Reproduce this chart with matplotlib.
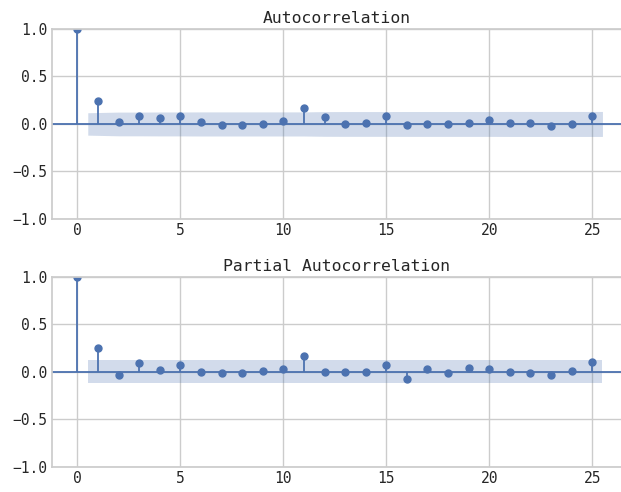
import numpy as np
import matplotlib
matplotlib.use("Agg")
import matplotlib.pyplot as plt
import seaborn as sns

sns.set_theme(style="whitegrid")
plt.rcParams['font.family'] = ['DejaVu Sans Mono', 'Noto Sans CJK SC']

# 滞后阶数 0..25
lags = np.arange(0, 26)

# 自相关系数
acf_vals = [1.0, 0.243, 0.025, 0.087, 0.058, 0.080, 0.025, -0.011, -0.011, 0.004,
            0.033, 0.167, 0.072, 0.004, 0.011, 0.080, -0.011, 0.004, -0.004, 0.011,
            0.040, 0.011, 0.011, -0.018, -0.004, 0.087]

# 偏自相关系数
pacf_vals = [1.0, 0.246, -0.029, 0.091, 0.022, 0.069, -0.007, -0.014, -0.014, 0.007,
             0.029, 0.170, 0.0, 0.0, -0.007, 0.069, -0.080, 0.029, -0.014, 0.036,
             0.029, -0.007, -0.014, -0.036, 0.007, 0.101]

# 置信区间半宽 (lag 1..25)
acf_band = [0.118, 0.125, 0.125, 0.126, 0.126, 0.127, 0.127, 0.127, 0.127, 0.127,
            0.127, 0.130, 0.1305, 0.1305, 0.1306, 0.131, 0.131, 0.131, 0.131, 0.131,
            0.1315, 0.1315, 0.1315, 0.1315, 0.1315]
pacf_band = [0.12] * 25

titles = ["Autocorrelation", "Partial Autocorrelation"]

fig, axes = plt.subplots(2, 1, figsize=(6.21, 4.92), dpi=100)
# 右侧坐标轴边框超出画布 (原图被裁掉)
fig.subplots_adjust(left=0.083, right=1.0016, top=0.941, bottom=0.0514, hspace=0.3055)

c = sns.color_palette()[0]
for ax, vals, band, title in zip(axes, [acf_vals, pacf_vals], [acf_band, pacf_band], titles):
    vals = np.asarray(vals)
    band = np.asarray(band)
    ax.vlines(lags, 0, vals, color=c, lw=1.3)
    ax.axhline(0, color=c, lw=1.3)
    ax.plot(lags, vals, 'o', color=c, markersize=5)
    # 置信带, 两端各延伸0.5
    bx = lags[1:].astype(float)
    bx[0] -= 0.5
    bx[-1] += 0.5
    ax.fill_between(bx, -band, band, color=c, alpha=0.25, lw=0)
    ax.set_xlim(-1.26, 26.45)
    ax.set_ylim(-1, 1)
    ax.set_yticks([-1.0, -0.5, 0.0, 0.5, 1.0])
    ax.set_xticks([0, 5, 10, 15, 20, 25])
    ax.tick_params(labelsize=10.5, colors='#262626', length=0, pad=3)
    ax.set_title(title, fontsize=11.8, pad=4)

fig.savefig("out.png", dpi=100)
